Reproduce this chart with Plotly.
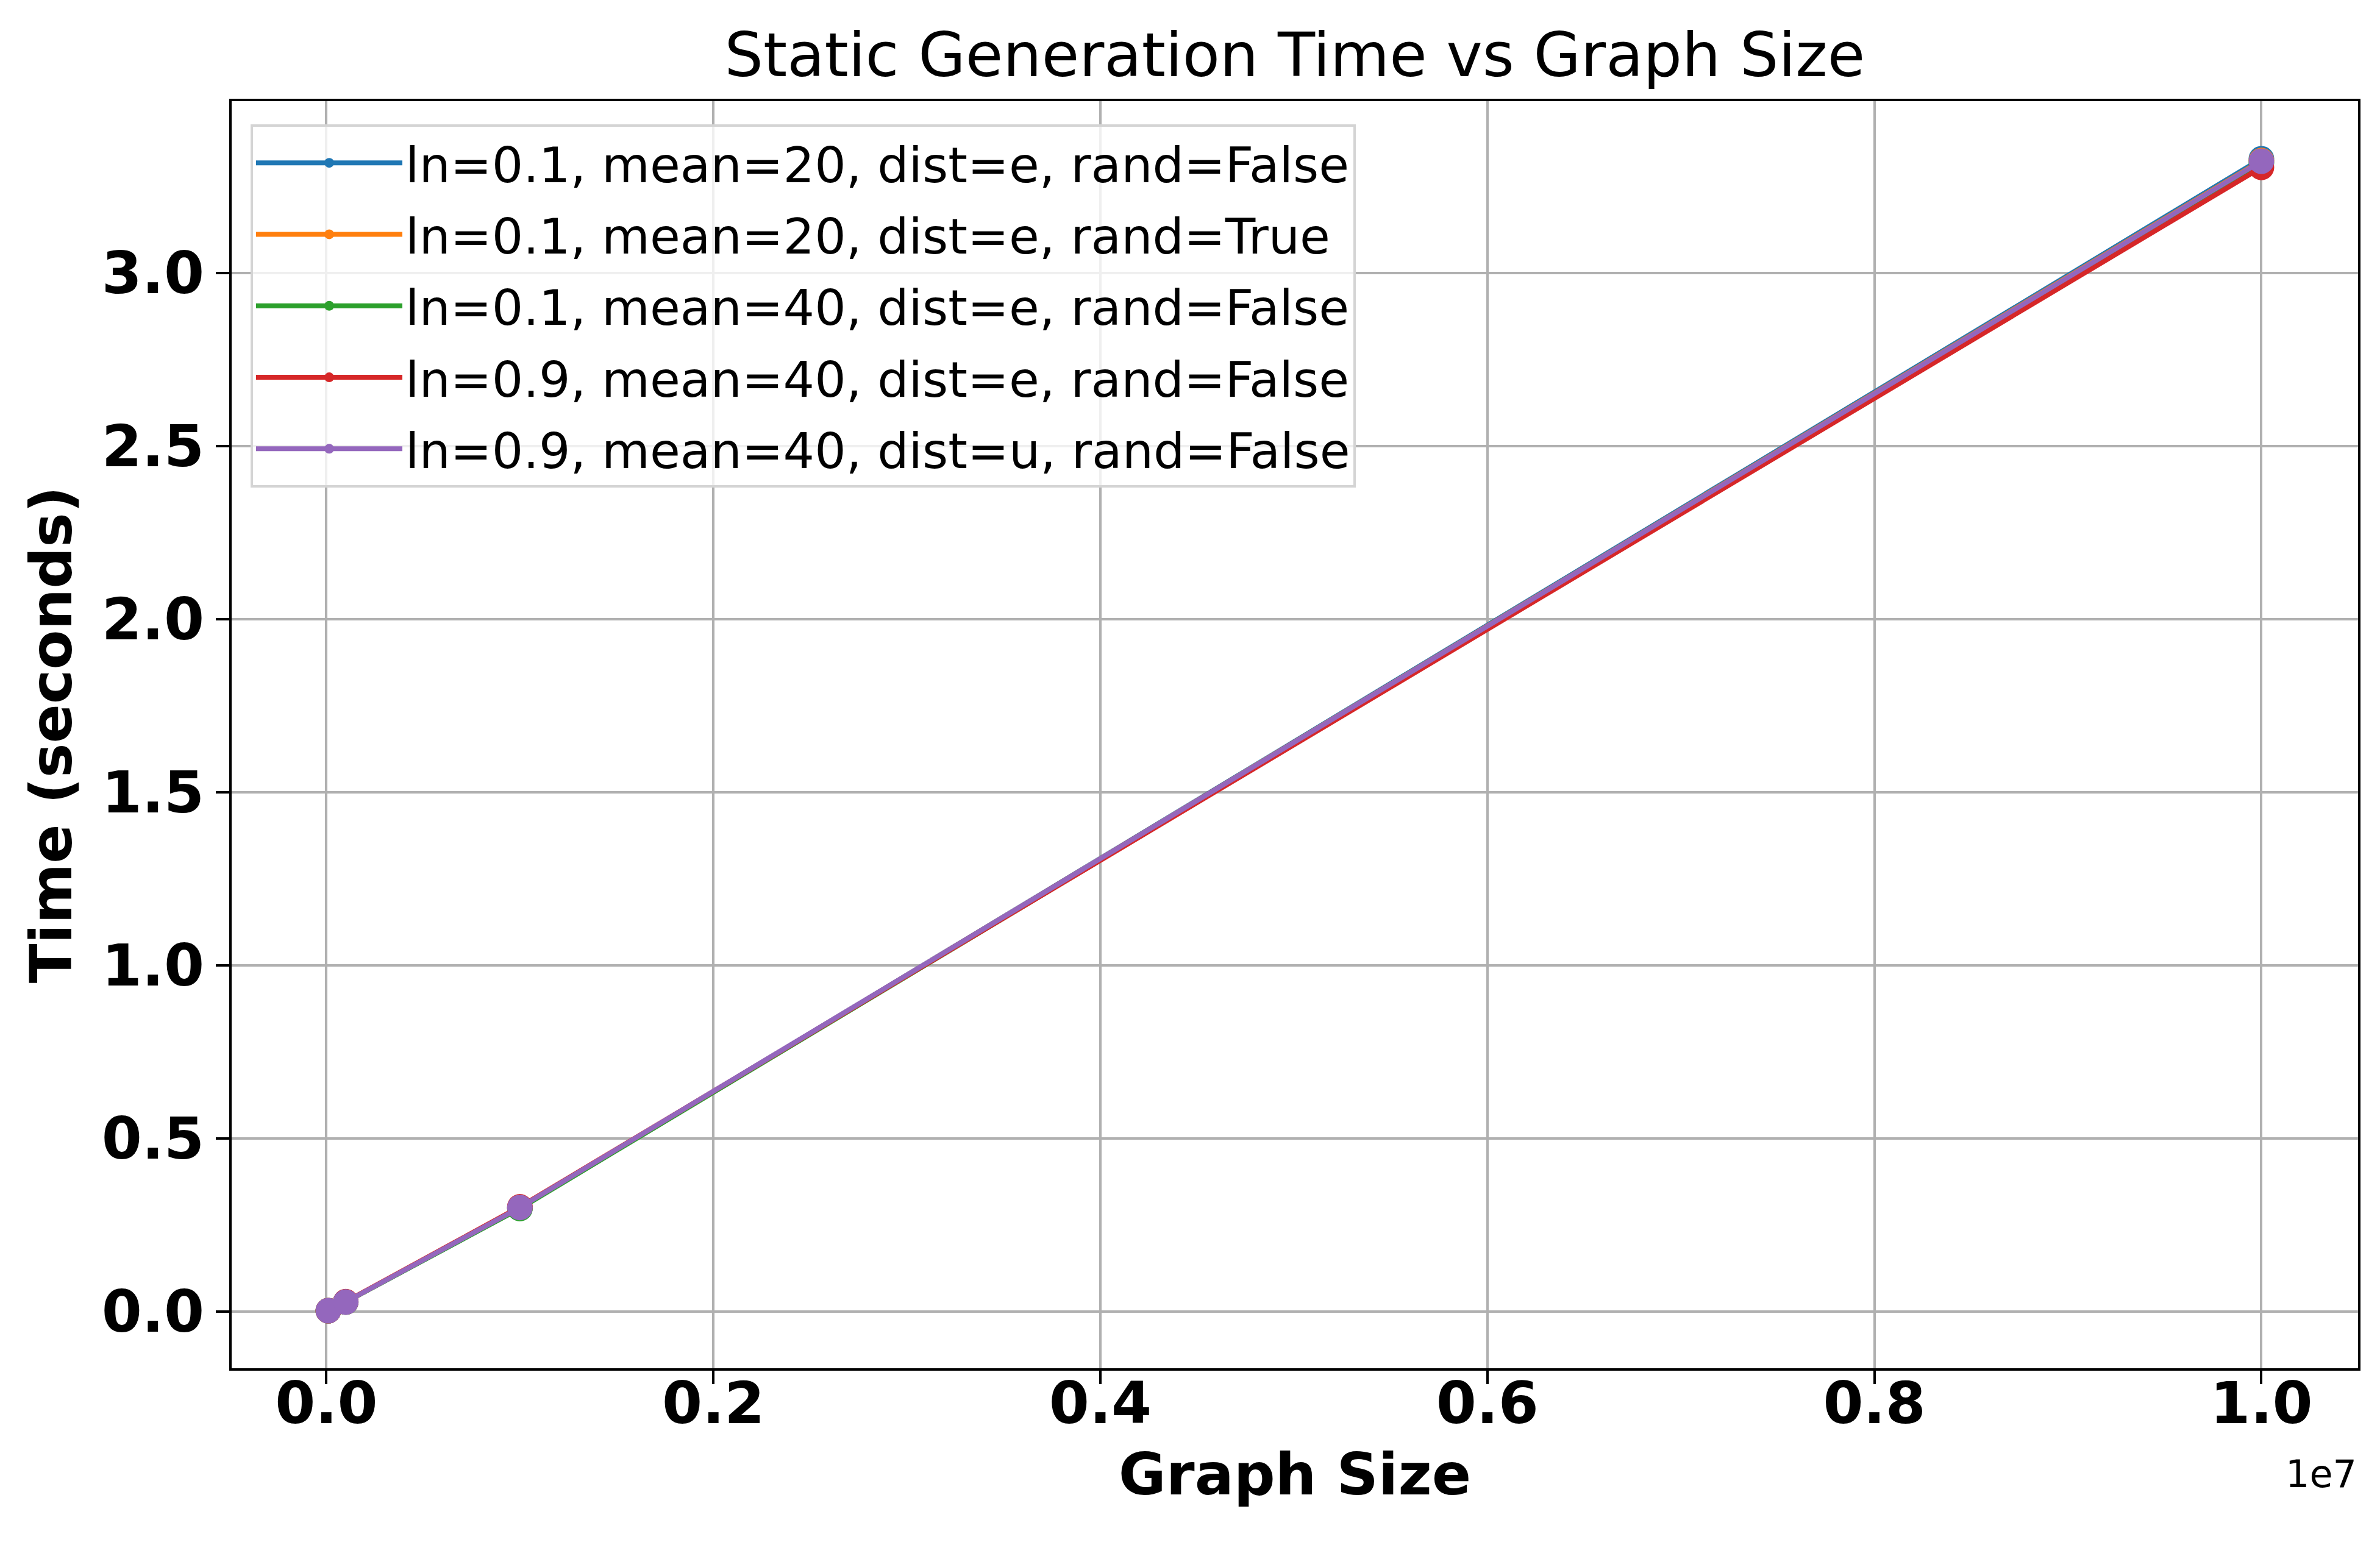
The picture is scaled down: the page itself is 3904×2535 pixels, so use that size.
import plotly.graph_objects as go

# ---------------- data ----------------
graph_sizes = [10000, 100000, 1000000, 10000000]

series_labels = [
    "ln=0.1, mean=20, dist=e, rand=False",
    "ln=0.1, mean=20, dist=e, rand=True",
    "ln=0.1, mean=40, dist=e, rand=False",
    "ln=0.9, mean=40, dist=e, rand=False",
    "ln=0.9, mean=40, dist=u, rand=False",
]

time_ln01_m20_e_false = [0.003, 0.028, 0.299, 3.330]
time_ln01_m20_e_true = [0.003, 0.028, 0.300, 3.325]
time_ln01_m40_e_false = [0.003, 0.028, 0.298, 3.318]
time_ln09_m40_e_false = [0.003, 0.029, 0.303, 3.305]
time_ln09_m40_u_false = [0.003, 0.028, 0.301, 3.323]

series_values = [
    time_ln01_m20_e_false,
    time_ln01_m20_e_true,
    time_ln01_m40_e_false,
    time_ln09_m40_e_false,
    time_ln09_m40_u_false,
]

series_colors = ["#1f77b4", "#ff7f0e", "#2ca02c", "#d62728", "#9467bd"]

x_tick_values = [0, 2000000, 4000000, 6000000, 8000000, 10000000]
x_tick_labels = ["0.0", "0.2", "0.4", "0.6", "0.8", "1.0"]
y_tick_values = [0.0, 0.5, 1.0, 1.5, 2.0, 2.5, 3.0]
y_tick_labels = ["0.0", "0.5", "1.0", "1.5", "2.0", "2.5", "3.0"]

# ---------------- figure ----------------
W, H = 3904, 2535
L, R, T, B = 372, 44, 158, 298
FONT = "DejaVu Sans"

fig = go.Figure()
for i, (name, vals, col) in enumerate(zip(series_labels, series_values, series_colors)):
    fig.add_trace(go.Scatter(
        x=graph_sizes, y=vals, name=name, mode="lines+markers",
        line=dict(color=col, width=8),
        marker=dict(color=col, size=42, line=dict(width=0)),
        legendgroup=f"g{i}",
    ))

xmin, xmax = min(graph_sizes), max(graph_sizes)
xpad = 0.05 * (xmax - xmin)
x_range = [xmin - xpad, xmax + xpad]
all_y = [v for s in series_values for v in s]
ymin, ymax = min(all_y), max(all_y)
ypad = 0.05 * (ymax - ymin)

tick_font = dict(family=FONT, size=95, color="black", weight="bold")
axis_common = dict(
    showgrid=True, gridcolor="#b0b0b0", gridwidth=4,
    showline=True, linecolor="black", linewidth=4, mirror=True,
    ticks="outside", ticklen=22, tickwidth=4, tickcolor="black",
    tickfont=tick_font, zeroline=False,
)

fig.update_layout(
    width=W, height=H,
    margin=dict(l=L, r=R, t=T, b=B, pad=0),
    paper_bgcolor="white", plot_bgcolor="white",
    title=dict(
        text="Static Generation Time vs Graph Size",
        font=dict(family=FONT, size=100, color="black"),
        x=0.5, xref="paper", xanchor="center",
        y=1 - 82 / H, yref="container", yanchor="middle",
    ),
    xaxis=dict(
        range=x_range,
        tickvals=x_tick_values, ticktext=x_tick_labels,
        ticklabelstandoff=-50,
        title=dict(text="Graph Size", standoff=30,
                   font=dict(family=FONT, size=95, color="black", weight="bold")),
        **axis_common,
    ),
    yaxis=dict(
        range=[ymin - ypad, ymax + ypad],
        tickvals=y_tick_values, ticktext=y_tick_labels,
        title=dict(text="Time (seconds)", standoff=18,
                   font=dict(family=FONT, size=95, color="black", weight="bold")),
        **axis_common,
    ),
    legend=dict(
        x=(403 - L) / (W - L - R), y=(H - B - 196) / (H - B - T),
        xanchor="left", yanchor="top",
        bgcolor="rgba(255,255,255,0.8)", bordercolor="#d4d4d4", borderwidth=4,
        font=dict(family=FONT, size=81, color="black"),
        itemwidth=240, tracegroupgap=9, traceorder="grouped",
    ),
    showlegend=True,
)

fig.add_annotation(
    text="1e7", xref="paper", yref="paper", x=1.0, y=(H - B - 2410) / (H - B - T),
    xanchor="right", yanchor="middle", showarrow=False,
    font=dict(family=FONT, size=62, color="black"),
)

fig.write_html("out.html")
